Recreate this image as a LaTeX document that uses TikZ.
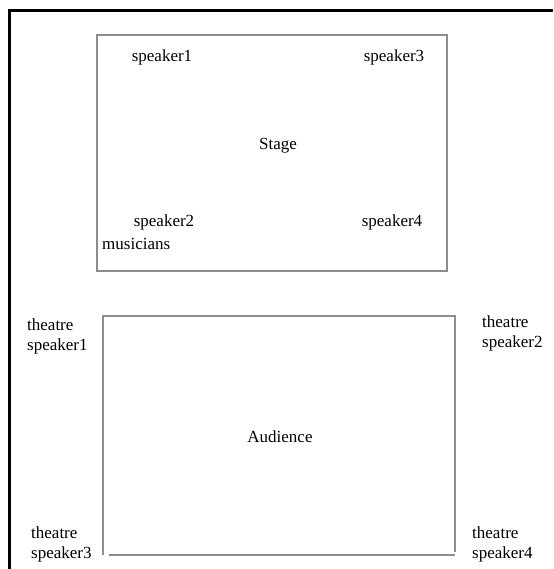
\documentclass[tikz,border=0pt]{standalone}
\usepackage{fontspec}
\setmainfont{Liberation Serif}
\begin{document}
\begin{tikzpicture}[x=1pt,y=-1pt,
  lbl/.style={inner sep=0pt,font=\fontsize{17}{20}\selectfont,text=black},
  two/.style={lbl,align=left},
  room/.style={draw=black!45,line width=1.3pt}]
\useasboundingbox (0,0) rectangle (553,569);
\fill[white] (0,0) rectangle (553,569);
% outer frame
\draw[line width=3pt] (9.5,569) -- (9.5,10.5) -- (553,10.5);
% stage
\draw[room] (97,35) rectangle (447,271);
\node[lbl] (s1) at (162,57) {speaker1};
\node[lbl] (s3) at (394,57) {speaker3};
\node[lbl] (stage) at (278,146) {Stage};
\node[lbl] (s2) at (164,222) {speaker2};
\node[lbl] (s4) at (392,222) {speaker4};
\node[lbl,anchor=west] (mus) at (102,244) {musicians};
% audience
\draw[room] (103,555) -- (103,316) -- (455,316) -- (455,552);
\draw[room] (109,555) -- (455,555);
\node[lbl] (aud) at (280,437) {Audience};
\node[two,anchor=west] (t1) at (27,336) {theatre\\speaker1};
\node[two,anchor=west] (t2) at (482,333) {theatre\\speaker2};
\node[two,anchor=west] (t3) at (31,544) {theatre\\speaker3};
\node[two,anchor=west] (t4) at (472,544) {theatre\\speaker4};
\end{tikzpicture}
\end{document}
